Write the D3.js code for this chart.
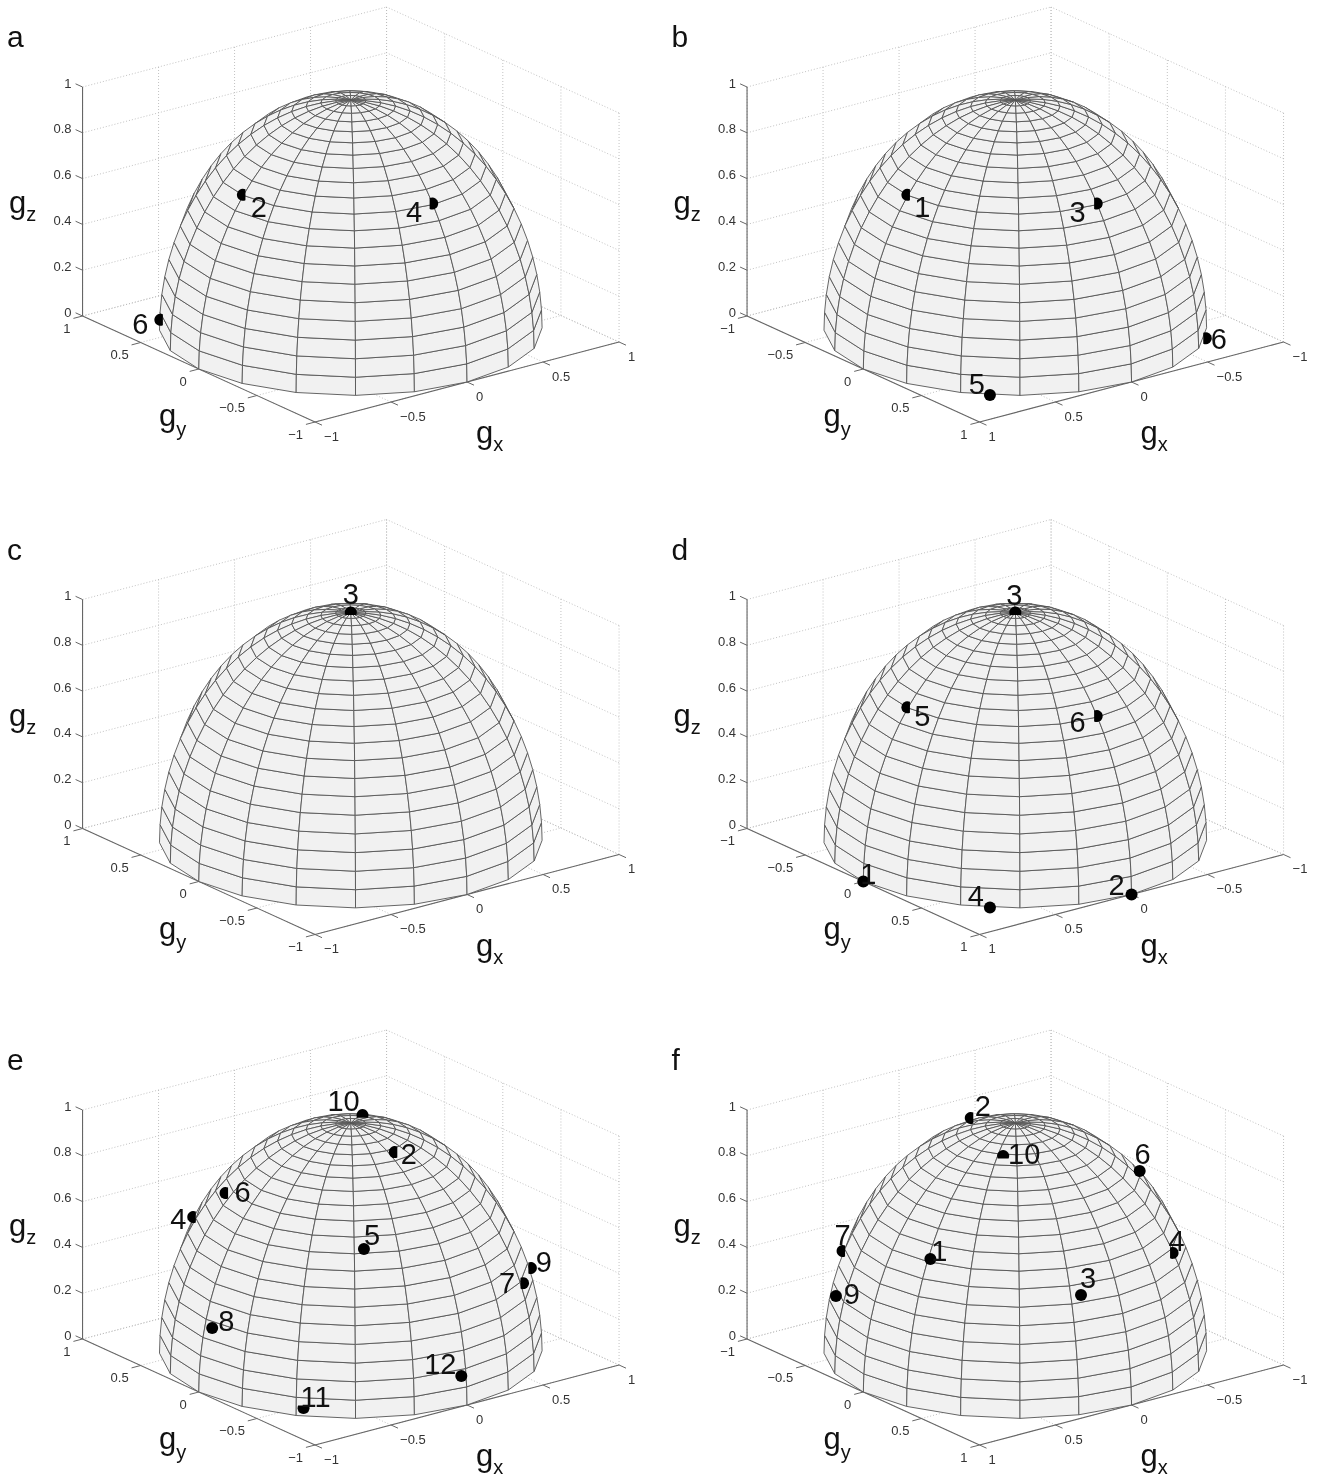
<!DOCTYPE html>
<html>
<head>
<meta charset="utf-8">
<script src="https://cdnjs.cloudflare.com/ajax/libs/d3/7.8.5/d3.min.js"></script>
<style>
  html, body { margin: 0; background: #fff; }
  svg { display: block; filter: blur(0.35px); }
  text { font-family: "Liberation Sans", Arial, sans-serif; }
</style>
</head>
<body>
<div id="vis"></div>
<script>
// gradient directions
const labelsA = ["2", "4", "6"];
const gxA = [-0.71, 0, -0.71];
const gyA = [0, -0.7, 0.71];
const gzA = [0.71, 0.71, 0];
const capsA = ["left", "right", "left"];

const labelsB = ["1", "3", "5", "6"];
const gxB = [0.71, 0, 0.71, -0.71];
const gyB = [0, 0.7, 0.71, 0.71];
const gzB = [0.71, 0.71, 0, 0];
const capsB = ["left", "right", "full", "right"];

const labelsC = ["3"];
const gxC = [0];
const gyC = [0];
const gzC = [1];
const capsC = ["top"];

const labelsD = ["3", "5", "6", "1", "4", "2"];
const gxD = [0, 0.71, 0, 1, 0.71, 0];
const gyD = [0, 0, 0.7, 0, 0.71, 1];
const gzD = [1, 0.71, 0.71, 0, 0, 0];
const capsD = ["top", "left", "right", "full", "full", "full"];

const labelsE = ["10", "2", "6", "4", "5", "9", "7", "8", "11", "12"];
const gxE = [0.23, 0.06, -0.61, -0.57, -0.38, 0.81, 0.59, -0.95, -0.77, -0.03];
const gyE = [0.2, -0.3, 0.28, 0.61, -0.61, -0.49, -0.71, -0.05, -0.6, -0.99];
const gzE = [0.948, 0.932, 0.736, 0.548, 0.657, 0.339, 0.362, 0.282, 0.029, 0.13];
const capsE = ["top", "left", "left", "left", "full", "right", "right", "full", "bottom", "full"];

const labelsF = ["2", "10", "6", "7", "4", "1", "9", "3"];
const gxF = [0.01, 0.21, -0.65, 0.67, -0.53, 0.75, 0.855, 0.21];
const gyF = [-0.37, 0.17, 0.22, -0.61, 0.66, 0.25, -0.425, 0.84];
const gzF = [0.938, 0.932, 0.728, 0.417, 0.493, 0.595, 0.296, 0.48];
const capsF = ["left", "top", "full", "left", "right", "full", "full", "full"];

// where each number sits relative to its dot
const labelDxA = [16, -18, -20];
const labelDyA = [12, 8, 4];
const labelDxB = [15, -19, -13, 13];
const labelDyB = [12, 8, -11, 1];
const labelDxC = [0];
const labelDyC = [-19];
const labelDxD = [-1, 15, -19, 5, -14, -15];
const labelDyD = [-18, 9, 6, -8, -12, -10];
const labelDxE = [-19, 14, 17, -15, 8, 13, -16, 14, 12, -21];
const labelDyE = [-14, 2, -1, 2, -14, -6, 0, -7, -11, -12];
const labelDxF = [12, 21, 3, 0, 4, 9, 16, 7];
const labelDyF = [-12, -2, -17, -16, -12, -8, -2, -17];

const gTicks = [-1, -0.5, 0, 0.5, 1];
const gTickLabels = ["\u22121", "\u22120.5", "0", "0.5", "1"];
const zTicks = [0, 0.2, 0.4, 0.6, 0.8, 1];
const zTickLabels = ["0", "0.2", "0.4", "0.6", "0.8", "1"];

const width = 1327, height = 1478;
const colDx = 664.5;
const rowDy = [0, 512.5, 1023];

const svg = d3.select("#vis").append("svg")
  .attr("width", width)
  .attr("height", height);

//sphere mesh: 18 deg around, 4.5 deg up
const lonSteps = d3.range(0, 360, 18);
const latSteps = d3.range(0, 90, 4.5);
const rad = Math.PI / 180;

function sph(lat, lon) {
  return [Math.cos(lat * rad) * Math.cos(lon * rad),
          Math.cos(lat * rad) * Math.sin(lon * rad),
          Math.sin(lat * rad)];
}

// disc cut by a chord, the part behind the dome is left out
const capCentre = {left: 180, right: 0, top: -90, bottom: 90};
function dotPath(cap) {
  const p = d3.path();
  if (cap === "full") {
    p.arc(0, 0, 6, 0, 2 * Math.PI);
  } else {
    const a = capCentre[cap];
    p.arc(0, 0, 6, (a - 115) * rad, (a + 115) * rad);
  }
  p.closePath();
  return p.toString();
}

function drawPanel(letter, col, row, flip, labels, gx, gy, gz, caps, labelDx, labelDy) {
  const g = svg.append("g")
    .attr("transform", `translate(${col * colDx}, ${rowDy[row]})`);

  // scales split each data axis into its screen x and y share
  const s = flip ? -1 : 1;
  const xH = d3.scaleLinear().domain([-1, 1]).range([-152 * s, 152 * s]);
  const xV = d3.scaleLinear().domain([-1, 1]).range([40 * s, -40 * s]);
  const yH = d3.scaleLinear().domain([-1, 1]).range([116.25 * s, -116.25 * s]);
  const yV = d3.scaleLinear().domain([-1, 1]).range([53 * s, -53 * s]);
  const zV = d3.scaleLinear().domain([0, 1]).range([0, -229]);
  const cx = 350.8, cy = 329;

  const project = (a, b, c) => [cx + xH(a) + yH(b), cy + xV(a) + yV(b) + zV(c)];
  const line = d3.line();
  const near = flip ? 1 : -1;
  const far = -near;

  function seg(cls, p0, p1) {
    return g.append("path")
      .attr("class", cls)
      .attr("d", line([project(...p0), project(...p1)]))
      .attr("fill", "none");
  }

  //dotted grid on floor and two back walls
  const grid = [];
  gTicks.forEach(t => {
    grid.push([[t, near, 0], [t, far, 0]]);
    grid.push([[near, t, 0], [far, t, 0]]);
    grid.push([[t, far, 0], [t, far, 1]]);
    grid.push([[far, t, 0], [far, t, 1]]);
  });
  zTicks.forEach(z => {
    grid.push([[near, far, z], [far, far, z]]);
    grid.push([[far, near, z], [far, far, z]]);
  });
  grid.forEach(d => seg("grid", d[0], d[1])
    .attr("stroke", "#bbb")
    .attr("stroke-width", 0.9)
    .attr("stroke-dasharray", "1 2"));

  //axis lines
  const axisColor = "#666";
  seg("axis", [near, far, 0], [near, near, 0]).attr("stroke", axisColor).attr("stroke-width", 1.1);
  seg("axis", [near, near, 0], [far, near, 0]).attr("stroke", axisColor).attr("stroke-width", 1.1);
  seg("axis", [near, far, 0], [near, far, 1]).attr("stroke", axisColor).attr("stroke-width", 1.1);

  const tickFont = 13, tickColor = "#333";
  gTicks.forEach((t, i) => {
    // gx ticks
    seg("tick", [t, near, 0], [t, near * 1.06, 0]).attr("stroke", axisColor);
    let p = project(t, near, 0);
    g.append("text")
      .attr("x", p[0] + 9)
      .attr("y", p[1] + 14)
      .attr("dy", "0.35em")
      .attr("font-size", tickFont)
      .attr("fill", tickColor)
      .text(gTickLabels[i]);
    // gy ticks
    seg("tick", [near, t, 0], [near * 1.06, t, 0]).attr("stroke", axisColor);
    p = project(near, t, 0);
    g.append("text")
      .attr("x", p[0] - 12)
      .attr("y", p[1] + 12)
      .attr("dy", "0.35em")
      .attr("text-anchor", "end")
      .attr("font-size", tickFont)
      .attr("fill", tickColor)
      .text(gTickLabels[i]);
  });
  zTicks.forEach((z, i) => {
    seg("tick", [near, far, z], [near, far * 1.06, z]).attr("stroke", axisColor);
    const p = project(near, far, z);
    g.append("text")
      .attr("x", p[0] - 11)
      .attr("y", p[1] - 4)
      .attr("dy", "0.35em")
      .attr("text-anchor", "end")
      .attr("font-size", tickFont)
      .attr("fill", tickColor)
      .text(zTickLabels[i]);
  });

  //dome, keep only the faces looking at the viewer
  const quads = [];
  latSteps.forEach(lat => {
    lonSteps.forEach(lon => {
      const q = [[lat, lon], [lat, lon + 18], [lat + 4.5, lon + 18], [lat + 4.5, lon]]
        .map(d => project(...sph(d[0], d[1])));
      if (d3.polygonArea(q) > 0) quads.push(q);
    });
  });
  g.append("g").selectAll("path")
    .data(quads)
    .join("path")
    .attr("d", d => line(d) + "Z")
    .attr("fill", "#f1f1f1")
    .attr("stroke", "#555")
    .attr("stroke-width", 0.9);

  //dots and their numbers
  labels.forEach((lab, i) => {
    const p = project(gx[i], gy[i], gz[i]);
    g.append("path")
      .attr("class", "dot")
      .attr("transform", `translate(${p[0]}, ${p[1]})`)
      .attr("d", dotPath(caps[i]))
      .attr("fill", "#000");
    g.append("text")
      .attr("x", p[0] + labelDx[i])
      .attr("y", p[1] + labelDy[i])
      .attr("dy", "0.35em")
      .attr("text-anchor", "middle")
      .attr("font-size", 29)
      .attr("fill", "#111")
      .text(lab);
  });

  //axis titles
  function title(x, y, sub, subDy) {
    const t = g.append("text")
      .attr("x", x)
      .attr("y", y)
      .attr("font-size", 31)
      .attr("fill", "#111");
    t.append("tspan").text("g");
    t.append("tspan")
      .attr("dy", subDy)
      .attr("font-size", 20)
      .text(sub);
  }
  title(9, 213, "z", 8);
  title(159, 426, "y", 10);
  title(476, 443, "x", 8);

  //panel letter
  g.append("text")
    .attr("x", 7)
    .attr("y", 47)
    .attr("font-size", 30)
    .attr("fill", "#111")
    .text(letter);
}

drawPanel("a", 0, 0, false, labelsA, gxA, gyA, gzA, capsA, labelDxA, labelDyA);
drawPanel("b", 1, 0, true, labelsB, gxB, gyB, gzB, capsB, labelDxB, labelDyB);
drawPanel("c", 0, 1, false, labelsC, gxC, gyC, gzC, capsC, labelDxC, labelDyC);
drawPanel("d", 1, 1, true, labelsD, gxD, gyD, gzD, capsD, labelDxD, labelDyD);
drawPanel("e", 0, 2, false, labelsE, gxE, gyE, gzE, capsE, labelDxE, labelDyE);
drawPanel("f", 1, 2, true, labelsF, gxF, gyF, gzF, capsF, labelDxF, labelDyF);
</script>
</body>
</html>
